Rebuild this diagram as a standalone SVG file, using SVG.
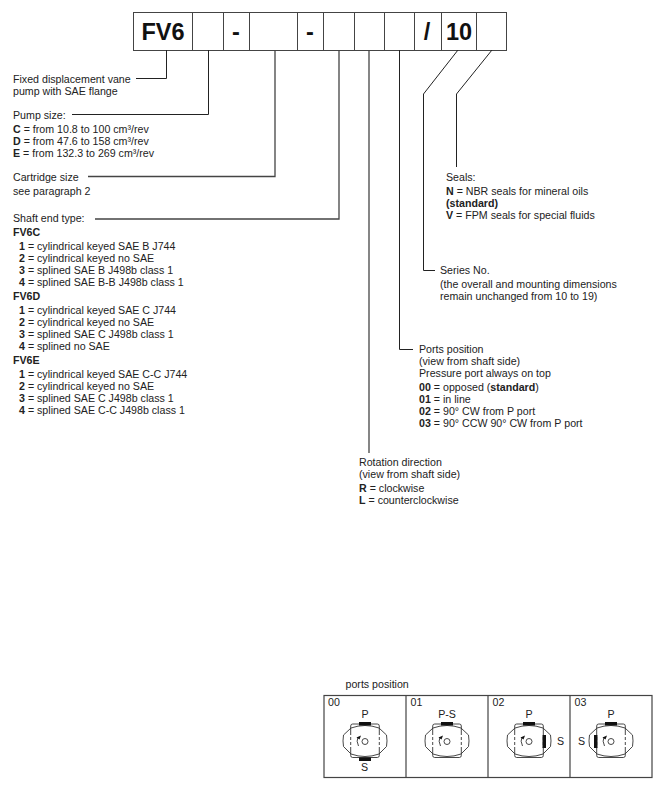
<svg xmlns="http://www.w3.org/2000/svg" width="659" height="785" viewBox="0 0 659 785">
<style>
text{font-family:"Liberation Sans",Arial,sans-serif;font-size:10.65px;fill:#222}
.b{font-weight:700}
.code{font-weight:700;font-size:23.5px;text-anchor:middle;fill:#111}
.box{fill:#fff;stroke:#444;stroke-width:1}
.c{fill:none;stroke:#222;stroke-width:1}
.g{fill:none;stroke:#444;stroke-width:1.3}
.cell{fill:none;stroke:#444;stroke-width:1.2}
.ol{fill:none;stroke:#333;stroke-width:.9}
.d{fill:none;stroke:#333;stroke-width:.9;stroke-dasharray:3 2}
.k{fill:#111;stroke:none}
.m{text-anchor:middle}
</style>
<defs>
<g id="pump">
<path class="ol" d="M-14.3-9V-15Q-14.3-17-12.3-17H12.3Q14.3-17 14.3-15V-9M-14.3 9V14.5Q-14.3 16.5-12.3 16.5H12.3Q14.3 16.5 14.3 14.5V9"/>
<path class="d" d="M-14.3-9V9M14.3-9V9"/>
<path class="ol" d="M-14-13Q0-18 14-13L21.500-6Q22.500 0 21.500 5.500L14 13Q0 18-14 13L-21.500 5.500Q-22.500 0-21.500-6Z"/>
<circle class="ol" cx="0" cy="0.5" r="3"/>
<path class="ol" stroke-width="1.2" d="M-6.5 5Q-9 0-7-4"/>
<path class="k" d="M-8.5-3.500L-4-5.500L-5.500-1.500Z"/>
</g>
</defs>
<g id="code-boxes">
<rect class="box" x="133.500" y="12.500" width="59" height="38"/>
<rect class="box" x="192.500" y="12.500" width="31" height="38"/>
<rect class="box" x="223.500" y="12.500" width="26" height="38"/>
<rect class="box" x="249.500" y="12.500" width="48" height="38"/>
<rect class="box" x="297.500" y="12.500" width="26" height="38"/>
<rect class="box" x="323.500" y="12.500" width="31" height="38"/>
<rect class="box" x="354.500" y="12.500" width="30" height="38"/>
<rect class="box" x="384.500" y="12.500" width="30" height="38"/>
<rect class="box" x="414.500" y="12.500" width="27" height="38"/>
<rect class="box" x="441.500" y="12.500" width="35" height="38"/>
<rect class="box" x="476.500" y="12.500" width="30" height="38"/>
<text class="code" x="163" y="40">FV6</text>
<text class="code" x="236" y="40">-</text>
<text class="code" x="310" y="40">-</text>
<text class="code" x="427" y="40">/</text>
<text class="code" x="459" y="40">10</text>
</g>
<g id="connectors">
<path class="c" d="M136 78.500H166.500V50"/>
<path class="c" d="M72 114.500H208.500V50"/>
<path class="g" d="M88 176.500H275V50"/>
<path class="g" d="M95 219H339V50"/>
<path class="g" d="M369 50V453"/>
<path class="c" d="M399.500 50V349.500H413"/>
<path class="c" d="M458 50L423.500 94V270.500H435"/>
<path class="c" d="M492 50L456.500 94V167"/>
</g>
<g id="label-type">
<text x="13" y="83">Fixed displacement vane</text>
<text x="13" y="95">pump with SAE flange</text>
</g>
<g id="label-size">
<text x="13" y="118.500">Pump size:</text>
<text x="13" y="132.500"><tspan class="b">C</tspan> = from 10.8 to 100 cm³/rev</text>
<text x="13" y="144.500"><tspan class="b">D</tspan> = from 47.6 to 158 cm³/rev</text>
<text x="13" y="156.500"><tspan class="b">E</tspan> = from 132.3 to 269 cm³/rev</text>
</g>
<g id="label-cartridge">
<text x="13" y="180.500">Cartridge size</text>
<text x="13" y="195">see paragraph 2</text>
</g>
<g id="label-shaft">
<text x="13" y="221.500">Shaft end type:</text>
<text class="b" x="13" y="235.500">FV6C</text>
<text x="19" y="249.500"><tspan class="b">1</tspan> = cylindrical keyed SAE B J744</text>
<text x="19" y="261.500"><tspan class="b">2</tspan> = cylindrical keyed no SAE</text>
<text x="19" y="273.500"><tspan class="b">3</tspan> = splined SAE B J498b class 1</text>
<text x="19" y="285.500"><tspan class="b">4</tspan> = splined SAE B-B J498b class 1</text>
<text class="b" x="13" y="299.500">FV6D</text>
<text x="19" y="313.500"><tspan class="b">1</tspan> = cylindrical keyed SAE C J744</text>
<text x="19" y="325.500"><tspan class="b">2</tspan> = cylindrical keyed no SAE</text>
<text x="19" y="337.500"><tspan class="b">3</tspan> = splined SAE C J498b class 1</text>
<text x="19" y="349.500"><tspan class="b">4</tspan> = splined no SAE</text>
<text class="b" x="13" y="363.500">FV6E</text>
<text x="19" y="377.500"><tspan class="b">1</tspan> = cylindrical keyed SAE C-C J744</text>
<text x="19" y="389.500"><tspan class="b">2</tspan> = cylindrical keyed no SAE</text>
<text x="19" y="401.500"><tspan class="b">3</tspan> = splined SAE C J498b class 1</text>
<text x="19" y="413.500"><tspan class="b">4</tspan> = splined SAE C-C J498b class 1</text>
</g>
<g id="label-seals">
<text x="446" y="181">Seals:</text>
<text x="446" y="194.500"><tspan class="b">N</tspan> = NBR seals for mineral oils</text>
<text class="b" x="446" y="206.500">(standard)</text>
<text x="446" y="219"><tspan class="b">V</tspan> = FPM seals for special fluids</text>
</g>
<g id="label-series">
<text x="440" y="274">Series No.</text>
<text x="440" y="288">(the overall and mounting dimensions</text>
<text x="440" y="300">remain unchanged from 10 to 19)</text>
</g>
<g id="label-ports">
<text x="419" y="352.500">Ports position</text>
<text x="419" y="364.500">(view from shaft side)</text>
<text x="419" y="376.500">Pressure port always on top</text>
<text x="419" y="390.500"><tspan class="b">00</tspan> = opposed (<tspan class="b">standard</tspan>)</text>
<text x="419" y="402.500"><tspan class="b">01</tspan> = in line</text>
<text x="419" y="414.500"><tspan class="b">02</tspan> = 90° CW from P port</text>
<text x="419" y="426.500"><tspan class="b">03</tspan> = 90° CCW 90° CW from P port</text>
</g>
<g id="label-rotation">
<text x="359" y="466">Rotation direction</text>
<text x="359" y="478">(view from shaft side)</text>
<text x="359" y="491.500"><tspan class="b">R</tspan> = clockwise</text>
<text x="359" y="503.500"><tspan class="b">L</tspan> = counterclockwise</text>
</g>
<g id="ports-table">
<text x="345.500" y="688">ports position</text>
<rect class="cell" x="324" y="695.500" width="328" height="82"/>
<path class="cell" d="M406 695.500V777.500M488 695.500V777.500M570 695.500V777.500"/>
</g>
<g id="port-00">
<text x="328" y="705.500">00</text>
<text class="m" x="365" y="717.500">P</text>
<text class="m" x="364.500" y="770.500">S</text>
<use href="#pump" x="365" y="741"/>
<rect class="k" x="359" y="722" width="12" height="3.500"/>
<rect class="k" x="359" y="757.500" width="12" height="3.500"/>
</g>
<g id="port-01">
<text x="410.500" y="705.500">01</text>
<text class="m" x="447" y="717.500">P-S</text>
<use href="#pump" x="447" y="741"/>
<rect class="k" x="441" y="722" width="12" height="3.500"/>
</g>
<g id="port-02">
<text x="492.500" y="705.500">02</text>
<text class="m" x="529" y="717.500">P</text>
<text class="m" x="560.500" y="744.500">S</text>
<use href="#pump" x="529" y="741"/>
<rect class="k" x="523" y="722" width="12" height="3.500"/>
<rect class="k" x="542.500" y="735" width="3.500" height="13"/>
</g>
<g id="port-03">
<text x="574.500" y="705.500">03</text>
<text class="m" x="611" y="717.500">P</text>
<text class="m" x="581.500" y="744.500">S</text>
<use href="#pump" x="611" y="741"/>
<rect class="k" x="605" y="722" width="12" height="3.500"/>
<rect class="k" x="594" y="735" width="3.500" height="13"/>
</g>
</svg>
